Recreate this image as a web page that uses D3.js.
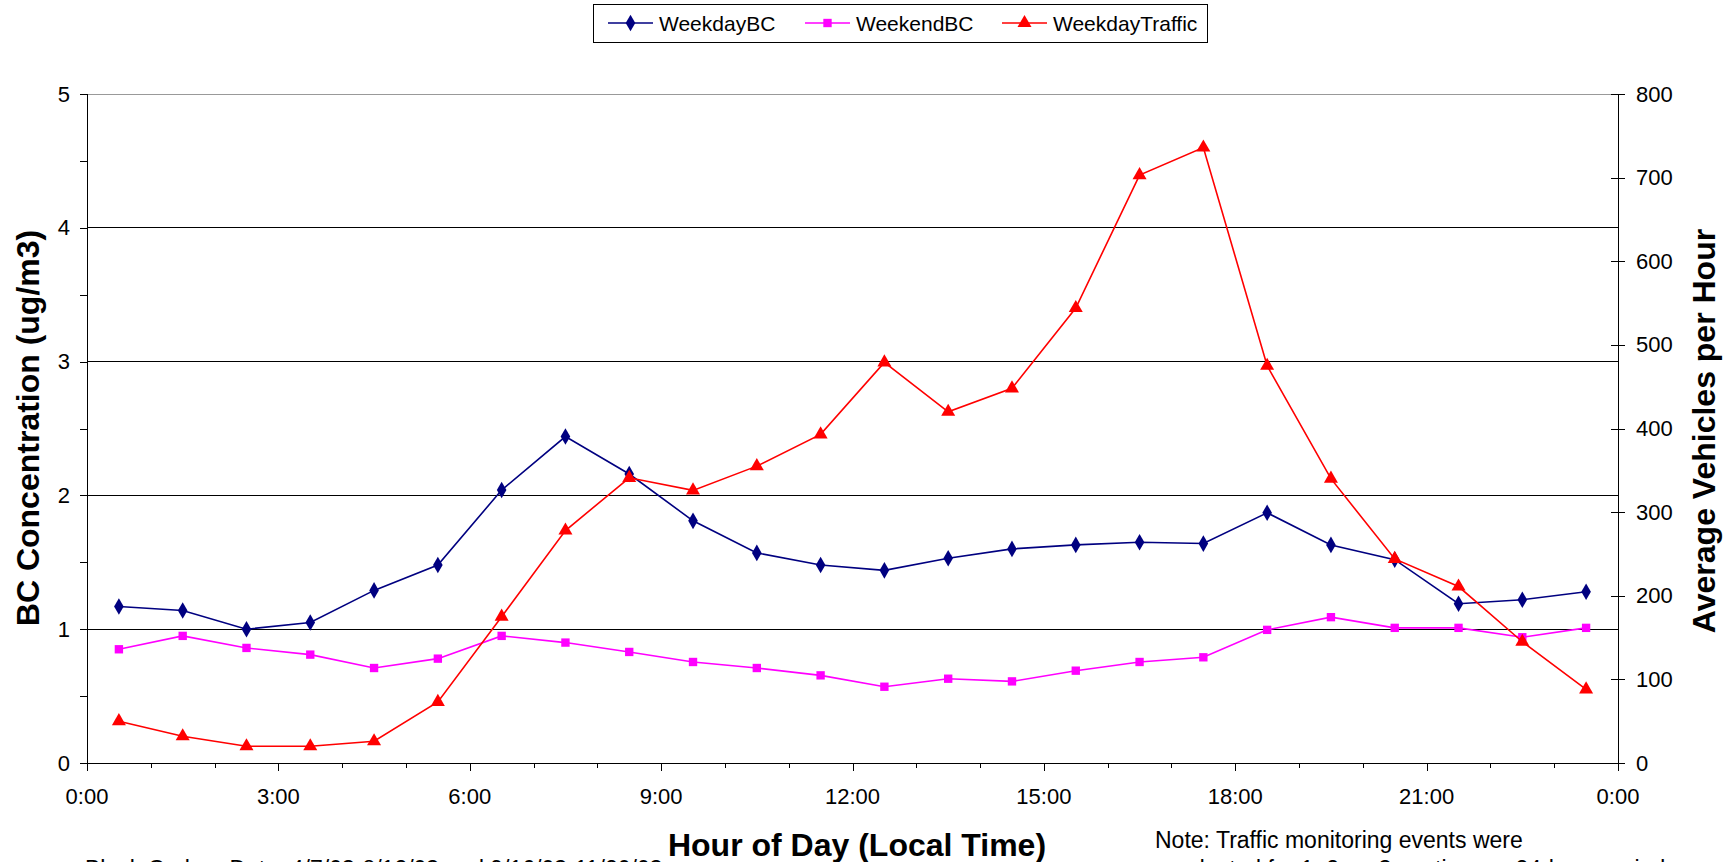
<!DOCTYPE html>
<html><head><meta charset="utf-8">
<script src="https://cdn.jsdelivr.net/npm/d3@7"></script>
<style>
html,body{margin:0;padding:0;background:#fff;overflow:hidden;}
svg{display:block;font-family:"Liberation Sans",Arial,sans-serif;}
</style></head>
<body>
<svg id="chart" width="1735" height="862"></svg>
<script>
// ---- data ----
const hours = [0.5,1.5,2.5,3.5,4.5,5.5,6.5,7.5,8.5,9.5,10.5,11.5,12.5,13.5,14.5,15.5,16.5,17.5,18.5,19.5,20.5,21.5,22.5,23.5];
const weekdayBC = [1.17,1.14,1.00,1.05,1.29,1.48,2.04,2.44,2.16,1.81,1.57,1.48,1.44,1.53,1.60,1.63,1.65,1.64,1.87,1.63,1.52,1.19,1.22,1.28];
const weekendBC = [0.85,0.95,0.86,0.81,0.71,0.78,0.95,0.90,0.83,0.755,0.71,0.655,0.57,0.63,0.61,0.69,0.755,0.79,0.995,1.09,1.01,1.01,0.94,1.01];
const weekdayTraffic = [50,32,20,20,26,73,175,278,341,326,355,393,479,420,448,544,703,736,475,340,244,211,145,88];
const xTickLabels = ["0:00","3:00","6:00","9:00","12:00","15:00","18:00","21:00","0:00"];
const leftTicks = [0,1,2,3,4,5];
const rightTicks = [0,100,200,300,400,500,600,700,800];
const seriesNames = ["WeekdayBC","WeekendBC","WeekdayTraffic"];
const seriesColors = ["#000080","#FF00FF","#FF0000"];

const svg = d3.select("#chart");
const L = 87, R = 1618, T = 94, B = 763;
const x = d3.scaleLinear().domain([0,24]).range([L,R]);
const yL = d3.scaleLinear().domain([0,5]).range([B,T]);
const yR = d3.scaleLinear().domain([0,800]).range([B,T]);

// gridlines
svg.append("g").selectAll("line").data([1,2,3,4]).join("line")
  .attr("x1",L).attr("x2",R).attr("y1",d=>yL(d)).attr("y2",d=>yL(d))
  .attr("stroke","#000").attr("stroke-width",1).attr("shape-rendering","crispEdges");
svg.append("line").attr("x1",L).attr("x2",R).attr("y1",yL(5)).attr("y2",yL(5))
  .attr("stroke","#999").attr("stroke-width",1).attr("shape-rendering","crispEdges");

// left axis
const gL = svg.append("g").attr("transform",`translate(${L},0)`)
  .call(d3.axisLeft(yL).tickValues(d3.range(0,5.01,0.5)).tickSize(7).tickFormat(""));
gL.selectAll("path,line").attr("stroke","#000").attr("shape-rendering","crispEdges");
gL.select(".domain").attr("d",`M0.5,${T}V${B}`);
svg.append("g").selectAll("text").data(leftTicks).join("text")
  .attr("x",70).attr("y",d=>yL(d)).attr("text-anchor","end").attr("dominant-baseline","central")
  .attr("font-size",22).text(d=>d);

// right axis
const gR = svg.append("g").attr("transform",`translate(${R},0)`)
  .call(d3.axisRight(yR).tickValues(rightTicks).tickSize(7).tickFormat(""));
gR.selectAll("path,line").attr("stroke","#000").attr("shape-rendering","crispEdges");
gR.selectAll(".tick line").attr("x1",-7);
gR.select(".domain").attr("d",`M0.5,${T}V${B}`);
svg.append("g").selectAll("text").data(rightTicks).join("text")
  .attr("x",1636).attr("y",d=>yR(d)).attr("text-anchor","start").attr("dominant-baseline","central")
  .attr("font-size",22).text(d=>d);

// x axis
const gX = svg.append("g").attr("transform",`translate(0,${B})`)
  .call(d3.axisBottom(x).tickValues(d3.range(0,25,1)).tickSize(5).tickFormat(""));
gX.selectAll("path,line").attr("stroke","#000").attr("shape-rendering","crispEdges");
gX.selectAll(".tick line").filter(d=>d%3===0).attr("y2",8);
gX.select(".domain").attr("d",`M${L},0.5H${R}`);
svg.append("g").selectAll("text").data(xTickLabels).join("text")
  .attr("x",(d,i)=>x(i*3)).attr("y",796).attr("text-anchor","middle").attr("dominant-baseline","central")
  .attr("font-size",22).text(d=>d);

// titles
svg.append("text").attr("x",857).attr("y",856).attr("text-anchor","middle")
  .attr("font-size",32).attr("font-weight","bold").text("Hour of Day (Local Time)");
svg.append("text").attr("transform","translate(28,428) rotate(-90)").attr("text-anchor","middle")
  .attr("dominant-baseline","central").attr("font-size",32).attr("font-weight","bold").text("BC Concentration (ug/m3)");
svg.append("text").attr("transform","translate(1704,431) rotate(-90)").attr("text-anchor","middle")
  .attr("dominant-baseline","central").attr("font-size",32).attr("font-weight","bold").text("Average Vehicles per Hour");

// notes
svg.append("text").attr("x",1155).attr("y",848).attr("font-size",23).text("Note: Traffic monitoring events were");
svg.append("text").attr("x",1155).attr("y",877).attr("font-size",23).text("conducted for 1, 2, or 3 continuous 24-hour periods");
svg.append("text").attr("x",85).attr("y",877).attr("font-size",23).text("Black Carbon Data: 4/7/03-8/12/03 and 9/16/03-11/20/03");

// series
const sym = [d3.symbolDiamond, d3.symbolSquare, d3.symbolTriangle];
const symSize = [80, 70, 85];
const series = [
  {vals: weekdayBC, y: yL},
  {vals: weekendBC, y: yL},
  {vals: weekdayTraffic, y: yR}
];
series.forEach((s,k)=>{
  const pts = hours.map((h,i)=>[x(h), s.y(s.vals[i])]);
  svg.append("path").attr("d", d3.line()(pts)).attr("fill","none")
    .attr("stroke",seriesColors[k]).attr("stroke-width",1.6);
  svg.append("g").selectAll("path").data(pts).join("path")
    .attr("transform",d=>`translate(${d[0]},${d[1]})`)
    .attr("d", d3.symbol(sym[k], symSize[k])()).attr("fill",seriesColors[k]);
});

// legend
svg.append("rect").attr("x",593.5).attr("y",4.5).attr("width",614).attr("height",38)
  .attr("fill","#fff").attr("stroke","#000").attr("stroke-width",1);
const legX = [608, 805, 1002];
seriesNames.forEach((n,k)=>{
  const g = svg.append("g");
  g.append("line").attr("x1",legX[k]).attr("x2",legX[k]+45).attr("y1",23).attr("y2",23)
    .attr("stroke",seriesColors[k]).attr("stroke-width",1.6);
  g.append("path").attr("transform",`translate(${legX[k]+22.5},23)`)
    .attr("d", d3.symbol(sym[k], symSize[k])()).attr("fill",seriesColors[k]);
  g.append("text").attr("x",legX[k]+51).attr("y",23).attr("dominant-baseline","central")
    .attr("font-size",21).text(n);
});
</script>
</body></html>
